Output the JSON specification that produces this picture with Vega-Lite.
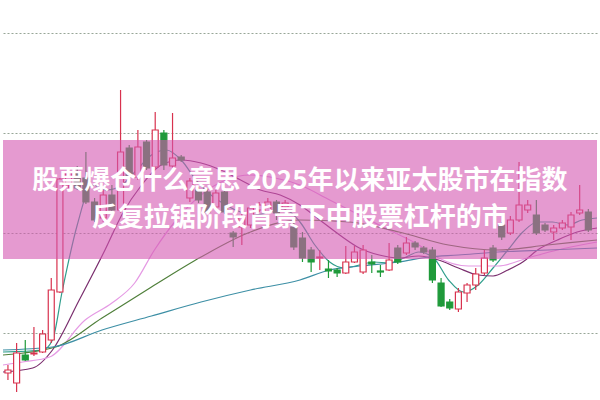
{
  "$schema": "https://vega.github.io/schema/vega-lite/v6.json",
  "width": 600,
  "height": 400,
  "autosize": {"type": "fit", "contains": "padding"},
  "padding": 0,
  "background": "#ffffff",
  "config": {"view": {"stroke": null}},
  "datasets": {
    "k": [
      {"i":0,"o":6.0,"c":6.3,"h":6.8,"l":5.3,"d":"up"},
      {"i":1,"o":5.0,"c":8.0,"h":9.0,"l":4.1,"d":"up"},
      {"i":2,"o":7.8,"c":7.3,"h":9.3,"l":7.2,"d":"down"},
      {"i":3,"o":7.9,"c":8.0,"h":10.6,"l":7.7,"d":"up"},
      {"i":4,"o":8.1,"c":9.9,"h":10.3,"l":8.0,"d":"up"},
      {"i":5,"o":9.3,"c":14.3,"h":15.5,"l":9.0,"d":"up"},
      {"i":6,"o":14.1,"c":25.4,"h":25.5,"l":14.0,"d":"up"},
      {"i":7,"o":24.8,"c":26.1,"h":26.3,"l":24.5,"d":"up"},
      {"i":8,"o":26.1,"c":24.5,"h":26.7,"l":24.3,"d":"down"},
      {"i":9,"o":25.5,"c":23.1,"h":28.1,"l":22.9,"d":"down"},
      {"i":10,"o":23.1,"c":21.3,"h":23.5,"l":21.1,"d":"down"},
      {"i":11,"o":21.5,"c":23.8,"h":24.3,"l":21.1,"d":"up"},
      {"i":12,"o":23.8,"c":22.3,"h":24.8,"l":21.8,"d":"down"},
      {"i":13,"o":22.3,"c":28.1,"h":34.3,"l":22.0,"d":"up"},
      {"i":14,"o":28.5,"c":25.6,"h":28.8,"l":25.3,"d":"down"},
      {"i":15,"o":25.6,"c":28.6,"h":30.3,"l":25.3,"d":"up"},
      {"i":16,"o":29.1,"c":26.5,"h":29.3,"l":26.3,"d":"down"},
      {"i":17,"o":26.6,"c":30.3,"h":32.1,"l":26.3,"d":"up"},
      {"i":18,"o":30.0,"c":26.8,"h":30.3,"l":26.3,"d":"down"},
      {"i":19,"o":26.7,"c":27.5,"h":32.0,"l":26.5,"d":"up"},
      {"i":20,"o":27.6,"c":27.3,"h":27.8,"l":27.1,"d":"down"},
      {"i":21,"o":23.5,"c":25.2,"h":25.5,"l":23.1,"d":"up"},
      {"i":22,"o":24.3,"c":23.3,"h":24.6,"l":23.0,"d":"down"},
      {"i":23,"o":24.1,"c":22.1,"h":24.5,"l":21.9,"d":"down"},
      {"i":24,"o":22.6,"c":24.0,"h":24.3,"l":22.3,"d":"up"},
      {"i":25,"o":24.1,"c":22.1,"h":24.4,"l":21.9,"d":"down"},
      {"i":26,"o":20.0,"c":19.6,"h":20.2,"l":18.6,"d":"down"},
      {"i":27,"o":20.6,"c":21.6,"h":21.9,"l":18.8,"d":"up"},
      {"i":28,"o":20.8,"c":22.5,"h":22.8,"l":20.5,"d":"up"},
      {"i":29,"o":22.3,"c":22.8,"h":23.1,"l":22.1,"d":"up"},
      {"i":30,"o":22.1,"c":23.1,"h":23.5,"l":21.9,"d":"up"},
      {"i":31,"o":23.1,"c":22.0,"h":23.3,"l":21.3,"d":"down"},
      {"i":32,"o":22.6,"c":23.0,"h":23.3,"l":22.3,"d":"up"},
      {"i":33,"o":20.6,"c":18.6,"h":21.3,"l":18.3,"d":"down"},
      {"i":34,"o":19.5,"c":17.5,"h":20.1,"l":17.1,"d":"down"},
      {"i":35,"o":18.3,"c":17.1,"h":18.6,"l":16.1,"d":"down"},
      {"i":36,"o":17.5,"c":17.6,"h":18.3,"l":16.3,"d":"up"},
      {"i":37,"o":16.4,"c":16.2,"h":17.3,"l":15.5,"d":"down"},
      {"i":38,"o":16.3,"c":16.0,"h":16.5,"l":15.6,"d":"down"},
      {"i":39,"o":16.0,"c":17.1,"h":18.7,"l":15.9,"d":"up"},
      {"i":40,"o":17.1,"c":18.1,"h":18.7,"l":17.0,"d":"up"},
      {"i":41,"o":16.1,"c":18.3,"h":18.8,"l":15.9,"d":"up"},
      {"i":42,"o":17.1,"c":16.9,"h":17.8,"l":16.0,"d":"down"},
      {"i":43,"o":16.2,"c":16.1,"h":16.8,"l":15.6,"d":"down"},
      {"i":44,"o":16.3,"c":17.3,"h":19.0,"l":16.2,"d":"up"},
      {"i":45,"o":18.5,"c":17.1,"h":18.8,"l":16.9,"d":"down"},
      {"i":46,"o":18.0,"c":19.0,"h":19.6,"l":17.8,"d":"up"},
      {"i":47,"o":19.0,"c":18.6,"h":19.2,"l":18.3,"d":"down"},
      {"i":48,"o":18.5,"c":18.1,"h":18.7,"l":17.9,"d":"down"},
      {"i":49,"o":18.3,"c":15.3,"h":18.6,"l":15.0,"d":"down"},
      {"i":50,"o":15.0,"c":12.7,"h":15.5,"l":12.6,"d":"down"},
      {"i":51,"o":13.1,"c":12.5,"h":13.4,"l":12.3,"d":"down"},
      {"i":52,"o":12.4,"c":14.1,"h":14.5,"l":12.1,"d":"up"},
      {"i":53,"o":14.0,"c":14.8,"h":15.0,"l":13.1,"d":"up"},
      {"i":54,"o":14.8,"c":15.9,"h":16.5,"l":14.3,"d":"up"},
      {"i":55,"o":16.0,"c":17.5,"h":18.3,"l":15.8,"d":"up"},
      {"i":56,"o":18.5,"c":17.3,"h":18.8,"l":17.1,"d":"down"},
      {"i":57,"o":20.8,"c":19.6,"h":21.1,"l":19.3,"d":"down"},
      {"i":58,"o":20.0,"c":21.3,"h":21.7,"l":19.8,"d":"up"},
      {"i":59,"o":21.3,"c":22.8,"h":27.1,"l":21.1,"d":"up"},
      {"i":60,"o":22.3,"c":22.8,"h":23.3,"l":22.0,"d":"up"},
      {"i":61,"o":21.8,"c":20.0,"h":23.3,"l":19.8,"d":"down"},
      {"i":62,"o":20.8,"c":20.3,"h":21.0,"l":20.1,"d":"down"},
      {"i":63,"o":20.1,"c":20.5,"h":20.8,"l":19.3,"d":"up"},
      {"i":64,"o":20.5,"c":21.0,"h":21.3,"l":20.3,"d":"up"},
      {"i":65,"o":20.6,"c":21.8,"h":22.1,"l":19.3,"d":"up"},
      {"i":66,"o":22.0,"c":22.3,"h":24.8,"l":21.8,"d":"up"},
      {"i":67,"o":22.1,"c":20.3,"h":22.4,"l":20.1,"d":"down"}
    ],
    "ma": [
      {"s":"MA5","x":-0.57,"v":8.1},{"s":"MA5","x":4.0,"v":8.3},{"s":"MA5","x":5.14,"v":9.3},{"s":"MA5","x":6.29,"v":14.3},{"s":"MA5","x":8.0,"v":20.8},{"s":"MA5","x":9.71,"v":24.8},{"s":"MA5","x":11.43,"v":24.3},{"s":"MA5","x":13.14,"v":24.8},{"s":"MA5","x":14.86,"v":26.3},{"s":"MA5","x":16.57,"v":27.8},{"s":"MA5","x":18.29,"v":28.3},{"s":"MA5","x":20.0,"v":27.3},{"s":"MA5","x":21.71,"v":25.3},{"s":"MA5","x":23.43,"v":23.8},{"s":"MA5","x":25.14,"v":22.8},{"s":"MA5","x":26.86,"v":22.1},{"s":"MA5","x":28.57,"v":21.8},{"s":"MA5","x":30.29,"v":22.1},{"s":"MA5","x":32.0,"v":22.3},{"s":"MA5","x":33.71,"v":21.1},{"s":"MA5","x":35.43,"v":18.8},{"s":"MA5","x":37.14,"v":17.1},{"s":"MA5","x":38.86,"v":16.5},{"s":"MA5","x":40.57,"v":16.8},{"s":"MA5","x":42.29,"v":17.1},{"s":"MA5","x":44.0,"v":17.0},{"s":"MA5","x":45.71,"v":17.5},{"s":"MA5","x":47.43,"v":18.1},{"s":"MA5","x":49.14,"v":17.5},{"s":"MA5","x":50.86,"v":15.3},{"s":"MA5","x":52.57,"v":14.1},{"s":"MA5","x":54.29,"v":14.8},{"s":"MA5","x":56.0,"v":16.5},{"s":"MA5","x":57.71,"v":18.3},{"s":"MA5","x":59.43,"v":20.1},{"s":"MA5","x":61.14,"v":21.1},{"s":"MA5","x":62.86,"v":21.1},{"s":"MA5","x":64.57,"v":20.8},{"s":"MA5","x":66.29,"v":21.3},{"s":"MA5","x":68.0,"v":21.5},
      {"s":"MA10","x":-0.57,"v":6.1},{"s":"MA10","x":2.86,"v":6.5},{"s":"MA10","x":5.14,"v":8.3},{"s":"MA10","x":8.23,"v":13.3},{"s":"MA10","x":11.2,"v":18.3},{"s":"MA10","x":13.14,"v":21.8},{"s":"MA10","x":15.43,"v":24.8},{"s":"MA10","x":17.71,"v":26.8},{"s":"MA10","x":20.0,"v":27.3},{"s":"MA10","x":22.29,"v":27.0},{"s":"MA10","x":24.57,"v":26.3},{"s":"MA10","x":26.86,"v":25.3},{"s":"MA10","x":29.14,"v":24.3},{"s":"MA10","x":31.43,"v":23.8},{"s":"MA10","x":33.71,"v":22.8},{"s":"MA10","x":36.0,"v":21.3},{"s":"MA10","x":38.29,"v":19.8},{"s":"MA10","x":40.57,"v":18.5},{"s":"MA10","x":42.86,"v":17.8},{"s":"MA10","x":45.14,"v":17.5},{"s":"MA10","x":47.43,"v":17.7},{"s":"MA10","x":49.71,"v":17.3},{"s":"MA10","x":52.0,"v":16.5},{"s":"MA10","x":54.29,"v":15.8},{"s":"MA10","x":56.0,"v":15.7},{"s":"MA10","x":57.71,"v":16.3},{"s":"MA10","x":59.43,"v":17.1},{"s":"MA10","x":61.14,"v":18.3},{"s":"MA10","x":63.43,"v":19.3},{"s":"MA10","x":65.71,"v":20.1},{"s":"MA10","x":68.0,"v":20.5},
      {"s":"MA20","x":-0.57,"v":6.8},{"s":"MA20","x":1.71,"v":7.1},{"s":"MA20","x":4.8,"v":7.6},{"s":"MA20","x":8.91,"v":11.3},{"s":"MA20","x":12.0,"v":13.0},{"s":"MA20","x":14.63,"v":15.0},{"s":"MA20","x":16.91,"v":18.3},{"s":"MA20","x":19.43,"v":21.3},{"s":"MA20","x":22.29,"v":23.8},{"s":"MA20","x":25.14,"v":25.3},{"s":"MA20","x":28.0,"v":25.8},{"s":"MA20","x":30.86,"v":25.5},{"s":"MA20","x":33.71,"v":24.8},{"s":"MA20","x":37.14,"v":23.3},{"s":"MA20","x":40.57,"v":21.8},{"s":"MA20","x":44.0,"v":20.3},{"s":"MA20","x":47.43,"v":18.8},{"s":"MA20","x":49.71,"v":17.5},{"s":"MA20","x":53.14,"v":16.7},{"s":"MA20","x":56.57,"v":16.7},{"s":"MA20","x":60.0,"v":17.5},{"s":"MA20","x":63.43,"v":18.3},{"s":"MA20","x":68.0,"v":19.1},
      {"s":"MA30","x":-0.57,"v":7.8},{"s":"MA30","x":5.49,"v":8.6},{"s":"MA30","x":10.86,"v":11.5},{"s":"MA30","x":16.57,"v":14.6},{"s":"MA30","x":22.29,"v":17.6},{"s":"MA30","x":28.0,"v":20.1},{"s":"MA30","x":33.71,"v":21.3},{"s":"MA30","x":39.43,"v":21.1},{"s":"MA30","x":45.14,"v":20.1},{"s":"MA30","x":50.86,"v":18.8},{"s":"MA30","x":56.57,"v":18.3},{"s":"MA30","x":62.29,"v":18.8},{"s":"MA30","x":68.0,"v":19.3},
      {"s":"MA60","x":-0.57,"v":8.3},{"s":"MA60","x":5.14,"v":8.6},{"s":"MA60","x":10.86,"v":10.3},{"s":"MA60","x":16.57,"v":11.7},{"s":"MA60","x":22.29,"v":13.1},{"s":"MA60","x":28.0,"v":14.3},{"s":"MA60","x":33.71,"v":15.3},{"s":"MA60","x":37.14,"v":16.3},{"s":"MA60","x":40.57,"v":16.7},{"s":"MA60","x":45.14,"v":17.1},{"s":"MA60","x":48.57,"v":17.6},{"s":"MA60","x":52.0,"v":17.8},{"s":"MA60","x":56.57,"v":18.1},{"s":"MA60","x":62.29,"v":18.3},{"s":"MA60","x":68.0,"v":18.5}
    ],
    "band": [{"x1": -0.571, "x2": 68.0, "y1": 17.4, "y2": 29.3}],
    "txt": [
      {"t": "股票爆仓什么意思 2025年以来亚太股市在指数", "x": 33.7, "y": 25.2},
      {"t": "反复拉锯阶段背景下中股票杠杆的市", "x": 33.7, "y": 21.5}
    ]
  },
  "layer": [
    {
      "data": {"name": "ma"},
      "mark": {"type": "line", "strokeWidth": 1.2, "interpolate": "monotone"},
      "encoding": {
        "x": {"field": "x", "type": "quantitative", "scale": {"domain": [-0.571, 68.0], "nice": false, "zero": false, "padding": 0}, "axis": null},
        "y": {"field": "v", "type": "quantitative", "scale": {"domain": [3.3, 43.3], "nice": false, "zero": false, "padding": 0},
              "axis": {"values": [10, 20, 30, 40], "grid": true, "gridDash": [2, 2], "gridColor": "#8c9c8c", "gridOpacity": 0.9, "labels": false, "ticks": false, "domain": false, "title": null}},
        "color": {"field": "s", "type": "nominal", "legend": null,
                  "scale": {"domain": ["MA5", "MA10", "MA20", "MA30", "MA60"], "range": ["#2f9e8c", "#7a2e6e", "#e59ae4", "#4f7f3a", "#3d8fa5"]}},
        "order": {"field": "x", "type": "quantitative"}
      }
    },
    {
      "data": {"name": "k"},
      "mark": {"type": "rule", "strokeWidth": 1.2},
      "encoding": {
        "x": {"field": "i", "type": "quantitative"},
        "y": {"field": "l", "type": "quantitative"},
        "y2": {"field": "h"},
        "color": {"field": "d", "type": "nominal", "legend": null, "scale": {"domain": ["up", "down"], "range": ["#d8324e", "#1f9a3a"]}}
      }
    },
    {
      "data": {"name": "k"},
      "mark": {"type": "bar", "size": 6, "strokeWidth": 1.2},
      "encoding": {
        "x": {"field": "i", "type": "quantitative"},
        "y": {"field": "o", "type": "quantitative"},
        "y2": {"field": "c"},
        "fill": {"field": "d", "type": "nominal", "legend": null, "scale": {"domain": ["up", "down"], "range": ["#ffffff", "#1f9a3a"]}},
        "stroke": {"field": "d", "type": "nominal", "legend": null, "scale": {"domain": ["up", "down"], "range": ["#d8324e", "#1f9a3a"]}}
      }
    },
    {
      "data": {"name": "band"},
      "mark": {"type": "rect", "color": "#d457b1", "opacity": 0.6},
      "encoding": {
        "x": {"field": "x1", "type": "quantitative"},
        "x2": {"field": "x2"},
        "y": {"field": "y1", "type": "quantitative"},
        "y2": {"field": "y2"}
      }
    },
    {
      "data": {"name": "txt"},
      "mark": {"type": "text", "color": "#ffffff", "fontSize": 26, "fontWeight": "bold", "font": "Noto Sans CJK SC", "align": "center", "baseline": "middle"},
      "encoding": {
        "x": {"field": "x", "type": "quantitative"},
        "y": {"field": "y", "type": "quantitative"},
        "text": {"field": "t"}
      }
    }
  ],
  "resolve": {"scale": {"color": "independent"}}
}
